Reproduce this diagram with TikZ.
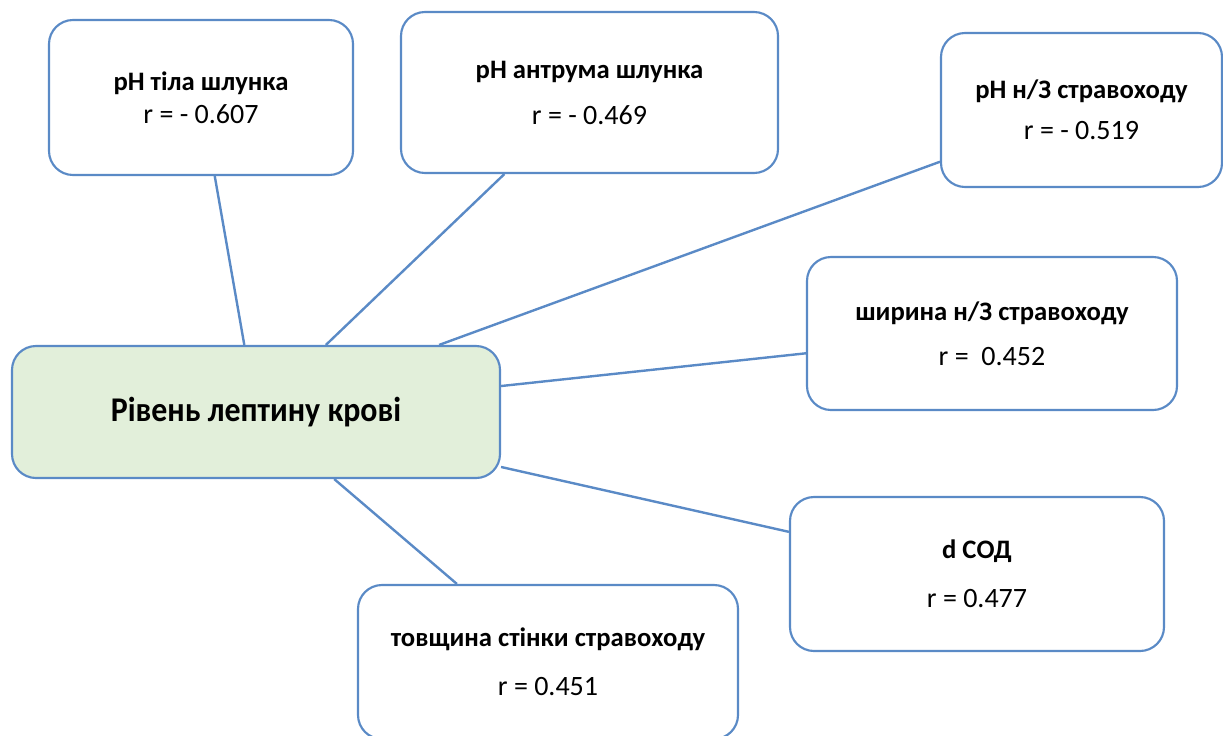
\documentclass[tikz,border=0pt]{standalone}
\usepackage{fontspec}
\setmainfont{Carlito}
\newfontfamily\mainfnt[FakeStretch=0.92]{Carlito}
\definecolor{bordblue}{HTML}{5A8AC6}
\definecolor{lgreen}{HTML}{E2EFDA}
\newcommand{\ttl}[1]{{\fontsize{20}{24}\selectfont\bfseries #1}}
\newcommand{\rval}[1]{{\fontsize{21}{24}\selectfont #1}}
\begin{document}
\begin{tikzpicture}[x=0.75pt,y=-0.75pt,
  box/.style={draw=bordblue,line width=1.6pt,rounded corners=18pt,fill=white,
    align=center,inner sep=0pt,font=\fontsize{20}{24}\selectfont},
  mainbox/.style={box,fill=lgreen,font=\mainfnt\fontsize{26}{30}\selectfont\bfseries},
  link/.style={draw=bordblue,line width=1.8pt}]
\useasboundingbox (0,0) rectangle (1223,735);
\clip (0,0) rectangle (1223,735);
\node[mainbox,minimum width=366pt,minimum height=99pt] (main) at (256,412) {Рівень лептину крові};
\node[box,minimum width=228pt,minimum height=116.25pt] (b1) at (201,97.5) {\ttl{pH тіла шлунка}\\[0.75pt]\rval{r = - 0.607}};
\node[box,minimum width=282.75pt,minimum height=120.75pt] (b2) at (589.5,92.5) {\ttl{pH антрума шлунка}\\[10.5pt]\rval{r = - 0.469}};
\node[box,minimum width=210.75pt,minimum height=115.5pt] (b3) at (1081.5,110) {\ttl{pH н/З стравоходу}\\[6.75pt]\rval{r = - 0.519}};
\node[box,minimum width=277.5pt,minimum height=114.75pt] (b4) at (992,333.5) {\ttl{ширина н/З стравоходу}\\[9.75pt]\rval{r = \ 0.452}};
\node[box,minimum width=280.5pt,minimum height=115.5pt] (b5) at (977,574) {\ttl{d СОД}\\[12.75pt]\rval{r = 0.477}};
\node[box,minimum width=285pt,minimum height=115.5pt] (b6) at (548,662) {\ttl{товщина стінки стравоходу}\\[12.75pt]\rval{r = 0.451}};
\draw[link] (b1) -- (main);
\draw[link] (b2) -- (main);
\draw[link] (b3) -- (main);
\draw[link] (b4) -- (main);
\draw[link] (b5) -- (main);
\draw[link] (b6) -- (main);
\end{tikzpicture}
\end{document}
